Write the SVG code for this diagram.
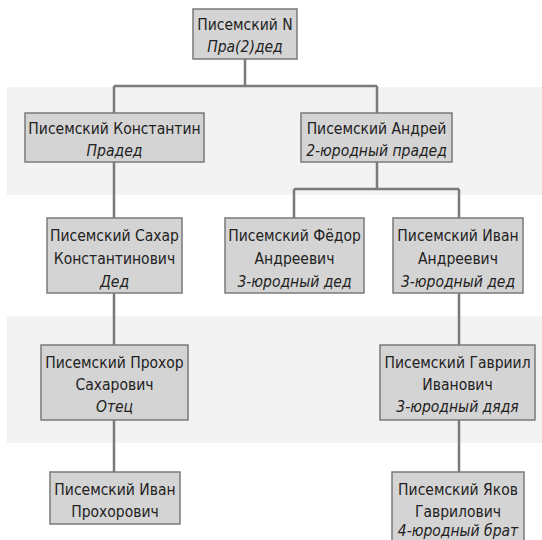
<svg xmlns="http://www.w3.org/2000/svg" width="542" height="540" viewBox="0 0 542 540">
<style>
.band{fill:#f3f3f3}
.box{fill:#d4d4d4;stroke:#7a7a7a;stroke-width:1.5}
.t{font-family:"DejaVu Sans Condensed","DejaVu Sans","Liberation Sans",sans-serif;font-stretch:condensed;font-size:15.5px;fill:#222;text-anchor:middle}
.i{font-style:italic}
.c{stroke:#7a7a7a;stroke-width:2.5;fill:none}
</style>
<rect width="542" height="540" fill="#ffffff"/>
<rect class="band" x="7" y="87" width="535" height="108"/>
<rect class="band" x="7" y="316" width="535" height="127"/>
<g id="connectors">
<path class="c" d="M245 59V86M114 86H377M114 86V113M377 86V113"/>
<path class="c" d="M114 162V218M377 162V189M294 189H459M294 189V218M459 189V218"/>
<path class="c" d="M114 293V345M459 293V345M114 420V472M459 420V472"/>
</g>
<g id="n0"><rect class="box" x="193" y="9" width="104" height="50"/>
<text class="t" x="245" y="30">Писемский N</text><text class="t i" x="245" y="52">Пра(2)дед</text></g>
<g id="n1"><rect class="box" x="25" y="113" width="179" height="49"/>
<text class="t" x="114.5" y="134">Писемский Константин</text><text class="t i" x="114.5" y="156">Прадед</text></g>
<g id="n2"><rect class="box" x="301" y="113" width="151" height="49"/>
<text class="t" x="376.5" y="134">Писемский Андрей</text><text class="t i" x="376.5" y="156">2-юродный прадед</text></g>
<g id="n3"><rect class="box" x="47" y="218" width="135" height="75"/>
<text class="t" x="114.5" y="241">Писемский Сахар</text><text class="t" x="114.5" y="264">Константинович</text><text class="t i" x="114.5" y="287">Дед</text></g>
<g id="n4"><rect class="box" x="225" y="218" width="139" height="75"/>
<text class="t" x="294.5" y="241">Писемский Фёдор</text><text class="t" x="294.5" y="264">Андреевич</text><text class="t i" x="294.5" y="287">3-юродный дед</text></g>
<g id="n5"><rect class="box" x="393" y="218" width="130" height="75"/>
<text class="t" x="458" y="241">Писемский Иван</text><text class="t" x="458" y="264">Андреевич</text><text class="t i" x="458" y="287">3-юродный дед</text></g>
<g id="n6"><rect class="box" x="41" y="345" width="147" height="75"/>
<text class="t" x="114.5" y="368">Писемский Прохор</text><text class="t" x="114.5" y="390">Сахарович</text><text class="t i" x="114.5" y="412">Отец</text></g>
<g id="n7"><rect class="box" x="380" y="345" width="155" height="75"/>
<text class="t" x="457.5" y="368">Писемский Гавриил</text><text class="t" x="457.5" y="390">Иванович</text><text class="t i" x="457.5" y="412">3-юродный дядя</text></g>
<g id="n8"><rect class="box" x="50" y="472" width="130" height="52"/>
<text class="t" x="115" y="495">Писемский Иван</text><text class="t" x="115" y="517">Прохорович</text></g>
<g id="n9"><rect class="box" x="392" y="472" width="132" height="75"/>
<text class="t" x="458" y="495">Писемский Яков</text><text class="t" x="458" y="517">Гаврилович</text><text class="t i" x="458" y="536">4-юродный брат</text></g>
</svg>
